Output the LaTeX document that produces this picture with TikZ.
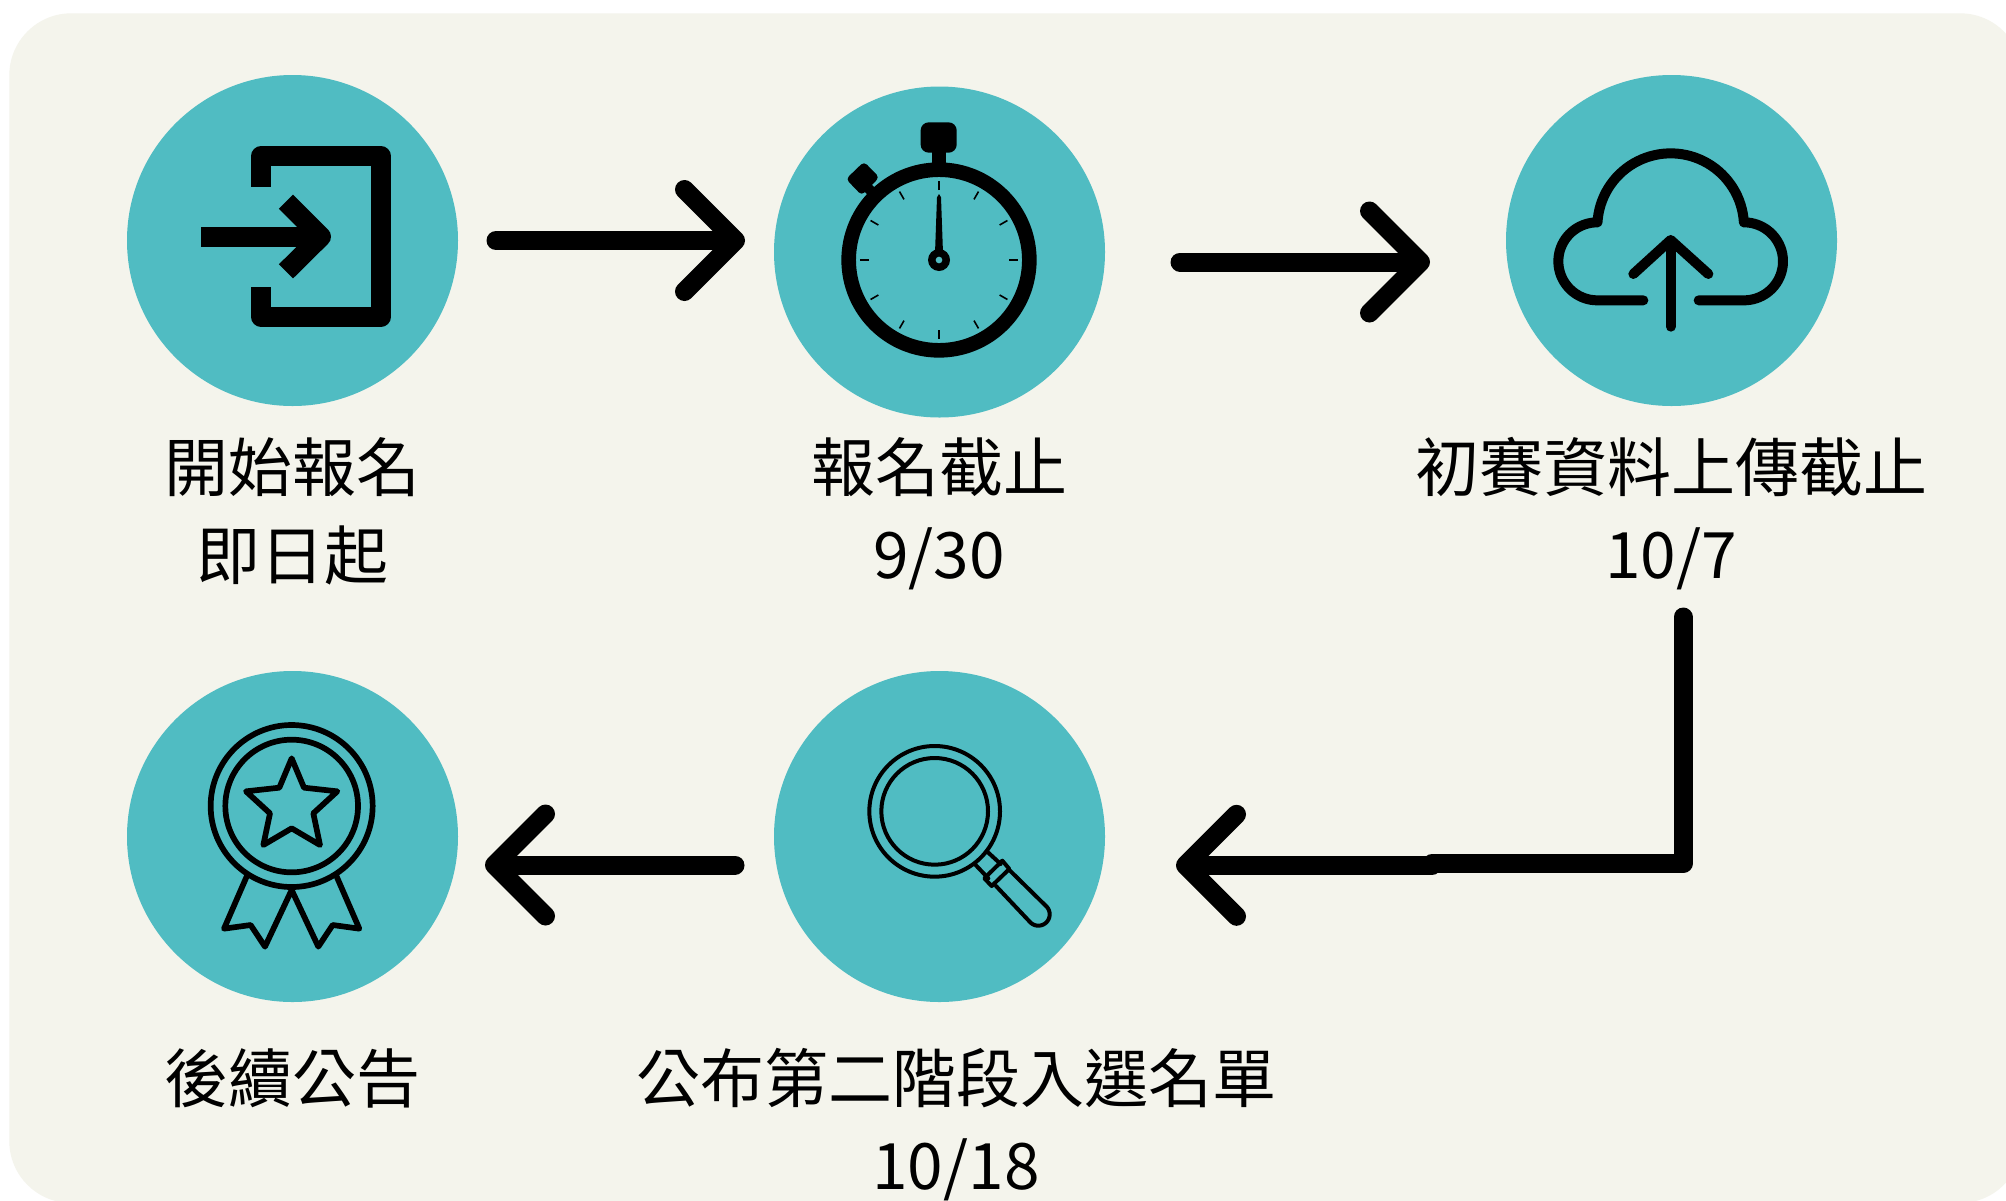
\documentclass[tikz,border=0pt]{standalone}
\usepackage{fontspec}
\usetikzlibrary{arrows.meta,calc}
\setmainfont{Noto Sans CJK TC}
\definecolor{paper}{HTML}{F4F4EC}
\definecolor{teal}{HTML}{50BCC2}
\tikzset{
  x=0.5pt,y=-0.5pt,
  disc/.style={circle,fill=teal,draw=none,minimum size=165.5pt,inner sep=0pt},
  caption/.style={font=\fontsize{32pt}{32pt}\selectfont,text=black,inner sep=0pt,anchor=center},
  flowline/.style={line width=9.5pt,line cap=round,line join=round},
  flowarrow/.style={flowline,-{Straight Barb[length=25.5pt,width=51pt,line width=9.5pt,round]}},
  ink/.style={draw=black,line join=round,line cap=round},
}
\begin{document}
\begin{tikzpicture}
\useasboundingbox (0,0) rectangle (2006,1200);
\fill[white] (0,0) rectangle (2006,1200);
\begin{scope}
\clip (0,0) rectangle (2006,1200);
\fill[paper,rounded corners=31pt] (9.3,13.3) rectangle (2022,1203);
\end{scope}

\node[disc] (d1) at (292.5,240.5) {};
\node[disc] (d2) at (939.5,252) {};
\node[disc] (d3) at (1671.5,240.5) {};
\node[disc] (d4) at (939.5,836.5) {};
\node[disc] (d5) at (292.5,836.5) {};

% captions
\node[caption] (t1a) at (292,467) {開始報名};
\node[caption] (t1b) at (292,555) {即日起};
\node[caption] (t2a) at (939,467) {報名截止};
\node[caption] (t2b) at (939,559) {9/30};
\node[caption] (t3a) at (1671,467) {初賽資料上傳截止};
\node[caption] (t3b) at (1671,559) {10/7};
\node[caption] (t5a) at (292,1078) {後續公告};
\begin{scope}
\clip (0,0) rectangle (2006,1200);
\node[caption] (t4a) at (956,1078) {公布第二階段入選名單};
\node[caption] (t4b) at (956,1170) {10/18};
\end{scope}

% connectors
\coordinate (a1s) at (496,240.5); \coordinate (a1e) at (745,240.5);
\coordinate (a2s) at (1180,262);  \coordinate (a2e) at (1430,262);
\coordinate (a3s) at (1683,617);  \coordinate (a3c) at (1683,863.7);
\coordinate (a3m) at (1432,863.7);
\coordinate (a3j) at (1432,865.3); \coordinate (a3e) at (1176,865.3);
\coordinate (a4s) at (735,865);   \coordinate (a4e) at (485,865);
\draw[flowarrow] (a1s) -- (a1e);
\draw[flowarrow] (a2s) -- (a2e);
\draw[flowline] (a3s) -- (a3c) -- (a3m);
\draw[flowarrow] (a3j) -- (a3e);
\draw[flowarrow] (a4s) -- (a4e);

% sign-in icon
\begin{scope}[shift={(120,70)},scale=1/3]
\draw[ink,line width=10pt,line cap=butt] (423,350) -- (423,259) -- (783,259) -- (783,740) -- (423,740) -- (423,650);
\draw[ink,line width=10pt,line cap=butt] (243,500) -- (600,500);
\draw[ink,line width=10pt,line cap=butt] (498,395) -- (603,500) -- (498,604);
\end{scope}

% stopwatch icon
\begin{scope}[shift={(770,80)},scale=1/3]
\draw[black,line width=7.3pt] (507,540) circle [radius=271];
\fill[black,rounded corners=4pt] (452,127) rectangle (560,218);
\fill[black] (486,210) rectangle (528,255);
\fill[black,rounded corners=2pt] (282,245) -- (328,292) -- (275,346) -- (228,297) -- cycle;
\draw[black,line width=5pt] (270,300) -- (318,348);
\foreach \a in {0,30,...,330}
  \draw[black,line width=0.8pt] ($(507,540)+(\a:210)$) -- ($(507,540)+(\a:237)$);
\fill[black] (507,342) -- (513,352) -- (519,520) -- (495,520) -- (501,352) -- cycle;
\fill[black] (507,540) circle [radius=33];
\fill[teal] (507,540) circle [radius=10];
\end{scope}

% cloud icon
\begin{scope}[shift={(1500,70)},scale=1/3]
\draw[ink,line width=5pt] (430,691) -- (292,691)
  -- plot[domain=90:270,samples=40] ({292+117*cos(\x)},{574+117*sin(\x)})
  -- plot[domain=183.4:356.6,samples=50] ({512+220*cos(\x)},{470+220*sin(\x)})
  -- plot[domain=-90:90,samples=40] ({732+117*cos(\x)},{574+117*sin(\x)})
  -- (596,691);
\draw[ink,line width=5pt] (512,770) -- (512,515);
\draw[ink,line width=5pt] (400,612) -- (512,510) -- (625,612);
\end{scope}

% magnifier icon
\begin{scope}[shift={(770,670)},scale=1/3]
\draw[black,line width=2pt] (494,424) circle [radius=196];
\draw[black,line width=2pt] (494,424) circle [radius=160];
\draw[ink,line width=2pt] (617,585) -- (655,625);
\draw[ink,line width=2pt] (655,548) -- (692,582);
\draw[ink,line width=2pt] (643,625) -- (697,572) -- (718,597) -- (665,648) -- cycle;
\draw[ink,line width=2pt] (718,600) -- (829,709)
  -- plot[domain=-45:135,samples=30] ({805+34*cos(\x)},{733+34*sin(\x)})
  -- (678,648);
\end{scope}

% medal icon
\begin{scope}[shift={(120,670)},scale=1/3]
\draw[black,line width=2.85pt] (515,408) circle [radius=243];
\draw[black,line width=2.85pt] (515,408) circle [radius=199];
\draw[ink,line width=2.85pt] (515,265) -- (552,353) -- (652,364) -- (580,430) -- (600,525) -- (515,475) -- (430,525) -- (450,430) -- (378,364) -- (478,353) -- cycle;
\draw[ink,line width=2.85pt] (382,615) -- (312,776) -- (392,765) -- (435,830) -- (515,660) -- (595,830) -- (638,765) -- (718,776) -- (648,615);
\end{scope}
\end{tikzpicture}
\end{document}
